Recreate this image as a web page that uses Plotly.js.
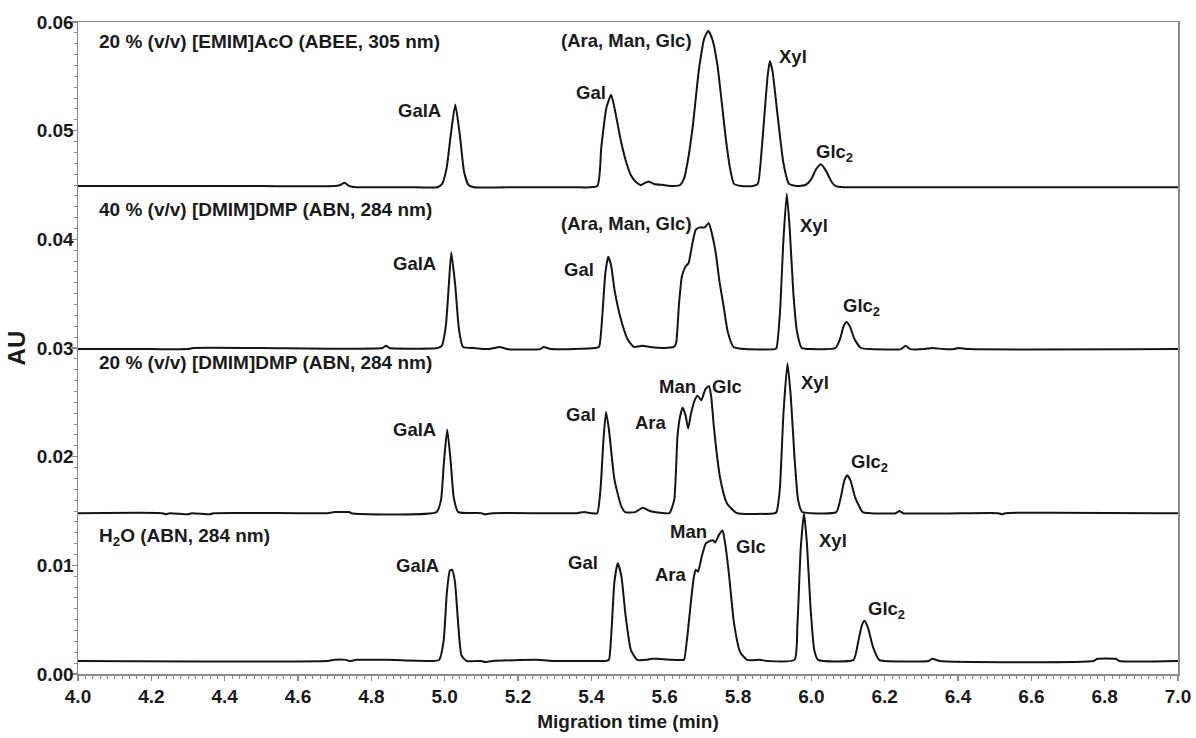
<!DOCTYPE html>
<html>
<head>
<meta charset="utf-8">
<script src="https://cdn.plot.ly/plotly-3.0.1.min.js"></script>
<style>html,body{margin:0;padding:0;background:#fff;}#chart{width:1196px;height:738px;}</style>
</head>
<body>
<div id="chart"></div>
<script>
// ---- Data (migration time in min, absorbance in AU) ----
// Trace 4: 20 % (v/v) [EMIM]AcO (ABEE, 305 nm)
const t4 = [4.00,4.30,4.50,4.70,4.715,4.727,4.74,4.76,4.90,4.98,4.993,5.005,5.017,5.029,5.041,5.053,5.065,5.08,5.20,5.35,5.416,5.427,5.441,5.454,5.466,5.481,5.496,5.508,5.521,5.535,5.546,5.557,5.571,5.596,5.625,5.642,5.653,5.665,5.677,5.688,5.695,5.708,5.719,5.731,5.744,5.756,5.767,5.778,5.789,5.81,5.84,5.854,5.863,5.872,5.881,5.887,5.894,5.908,5.924,5.939,5.96,5.984,5.999,6.014,6.026,6.04,6.055,6.066,6.09,6.3,6.6,7.00];
const au4 = [0.0449,0.0449,0.0449,0.0449,0.0450,0.0452,0.0449,0.0448,0.0448,0.0448,0.0451,0.0465,0.0497,0.0524,0.0497,0.0462,0.0450,0.0448,0.0448,0.0448,0.0449,0.0484,0.0521,0.0533,0.0516,0.0490,0.0470,0.0459,0.0453,0.0450,0.0452,0.0453,0.0451,0.0450,0.0449,0.0450,0.0456,0.0476,0.0505,0.0540,0.0560,0.0585,0.0592,0.0583,0.0560,0.0525,0.0492,0.0466,0.0451,0.0449,0.0449,0.0451,0.0476,0.0514,0.0551,0.0564,0.0555,0.0514,0.0470,0.0451,0.0449,0.0450,0.0455,0.0465,0.0469,0.0463,0.0453,0.0449,0.0448,0.0448,0.0448,0.0448];

// Trace 3: 40 % (v/v) [DMIM]DMP (ABN, 284 nm)
const t3 = [4.00,4.20,4.30,4.315,4.50,4.83,4.84,4.85,4.98,4.992,5.003,5.011,5.018,5.029,5.039,5.05,5.08,5.12,5.15,5.17,5.26,5.27,5.29,5.41,5.421,5.43,5.438,5.446,5.454,5.463,5.481,5.499,5.516,5.54,5.56,5.60,5.625,5.631,5.639,5.647,5.657,5.665,5.675,5.685,5.697,5.709,5.72,5.729,5.739,5.75,5.761,5.772,5.788,5.82,5.90,5.905,5.914,5.924,5.933,5.941,5.951,5.961,5.974,6.00,6.066,6.078,6.088,6.096,6.105,6.118,6.135,6.16,6.245,6.257,6.27,6.31,6.33,6.36,6.39,6.40,6.43,7.00];
const au3 = [0.0299,0.0299,0.0299,0.0300,0.0300,0.0300,0.0302,0.0300,0.0300,0.0302,0.0320,0.0356,0.0388,0.0357,0.0317,0.0301,0.0300,0.0299,0.0301,0.0299,0.0299,0.0301,0.0299,0.0300,0.0301,0.0330,0.0368,0.0384,0.0376,0.0354,0.0326,0.0308,0.0301,0.0302,0.0301,0.0300,0.0301,0.0304,0.0340,0.0366,0.0375,0.0378,0.0395,0.0409,0.0411,0.0411,0.0415,0.0405,0.0388,0.0360,0.0338,0.0315,0.0301,0.0299,0.0299,0.0300,0.0330,0.0400,0.0442,0.0410,0.0350,0.0315,0.0300,0.0299,0.0300,0.0308,0.0320,0.0324,0.0320,0.0308,0.0300,0.0299,0.0299,0.0302,0.0299,0.0299,0.0300,0.0299,0.0299,0.0300,0.0299,0.0299];

// Trace 2: 20 % (v/v) [DMIM]DMP (ABN, 284 nm)
const t2 = [4.00,4.23,4.24,4.25,4.30,4.31,4.36,4.37,4.68,4.70,4.74,4.745,4.978,4.99,4.998,5.007,5.016,5.025,5.037,5.10,5.11,5.13,5.36,5.38,5.40,5.416,5.425,5.433,5.44,5.448,5.463,5.481,5.492,5.52,5.54,5.56,5.60,5.613,5.626,5.635,5.642,5.649,5.657,5.664,5.672,5.682,5.690,5.700,5.711,5.721,5.727,5.734,5.743,5.752,5.770,5.797,5.90,5.905,5.914,5.924,5.935,5.944,5.954,5.964,5.975,6.00,6.068,6.08,6.09,6.098,6.107,6.12,6.14,6.16,6.23,6.24,6.25,6.51,6.52,6.53,7.00];
const au2 = [0.0148,0.0148,0.0147,0.0148,0.0147,0.0148,0.0147,0.0148,0.0148,0.0149,0.0149,0.0148,0.0149,0.0160,0.0195,0.0225,0.0197,0.0162,0.0149,0.0148,0.0147,0.0148,0.0148,0.0149,0.0148,0.0148,0.0170,0.0215,0.0241,0.0225,0.0179,0.0155,0.0149,0.0149,0.0153,0.0150,0.0148,0.0148,0.0160,0.0219,0.0237,0.0245,0.0238,0.0226,0.0240,0.0252,0.0256,0.0252,0.0262,0.0265,0.0255,0.0228,0.0200,0.0179,0.0157,0.0148,0.0148,0.0149,0.0170,0.0240,0.0286,0.0255,0.0200,0.0160,0.0149,0.0148,0.0149,0.0162,0.0178,0.0183,0.0178,0.0162,0.0149,0.0148,0.0148,0.0150,0.0148,0.0148,0.0147,0.0148,0.0148];

// Trace 1: H2O (ABN, 284 nm)
const t1 = [4.00,4.68,4.70,4.73,4.74,4.76,4.84,4.97,4.985,4.997,5.006,5.014,5.02,5.028,5.036,5.046,5.06,5.10,5.11,5.13,5.25,5.30,5.40,5.44,5.448,5.455,5.463,5.472,5.482,5.493,5.508,5.525,5.55,5.565,5.58,5.62,5.65,5.653,5.662,5.672,5.680,5.685,5.691,5.701,5.712,5.721,5.732,5.738,5.748,5.758,5.765,5.775,5.789,5.806,5.825,5.86,5.88,5.954,5.962,5.971,5.980,5.988,5.998,6.008,6.018,6.115,6.128,6.138,6.145,6.155,6.168,6.185,6.20,6.32,6.33,6.35,6.77,6.78,6.83,6.84,7.00];
const au1 = [0.0012,0.0012,0.0013,0.0013,0.0012,0.0013,0.0013,0.0012,0.0013,0.0030,0.0075,0.0095,0.0096,0.0085,0.0050,0.0017,0.0012,0.0012,0.0011,0.0012,0.0013,0.0012,0.0012,0.0012,0.0013,0.0040,0.0085,0.0102,0.0090,0.0055,0.0022,0.0013,0.0013,0.0014,0.0014,0.0013,0.0013,0.0013,0.0035,0.0068,0.0090,0.0096,0.0094,0.0108,0.0120,0.0122,0.0123,0.0121,0.0128,0.0132,0.0120,0.0093,0.0047,0.0020,0.0013,0.0013,0.0012,0.0013,0.0045,0.0115,0.0148,0.0120,0.0060,0.0022,0.0013,0.0013,0.0030,0.0045,0.0049,0.0042,0.0025,0.0013,0.0012,0.0012,0.0014,0.0012,0.0012,0.0014,0.0014,0.0012,0.0012];

// Axis ticks
const xTickVals = [4.0,4.2,4.4,4.6,4.8,5.0,5.2,5.4,5.6,5.8,6.0,6.2,6.4,6.6,6.8,7.0];
const yTickVals = [0.00,0.01,0.02,0.03,0.04,0.05,0.06];

// Panel titles and peak labels
const labelText = [
  "20 % (v/v) [EMIM]AcO (ABEE, 305 nm)","GalA","Gal","(Ara, Man, Glc)","Xyl","Glc<sub>2</sub>",
  "40 % (v/v) [DMIM]DMP (ABN, 284 nm)","GalA","Gal","(Ara, Man, Glc)","Xyl","Glc<sub>2</sub>",
  "20 % (v/v) [DMIM]DMP (ABN, 284 nm)","GalA","Gal","Ara","Man","Glc","Xyl","Glc<sub>2</sub>",
  "H<sub>2</sub>O (ABN, 284 nm)","GalA","Gal","Ara","Man","Glc","Xyl","Glc<sub>2</sub>"
];
const labelX = [
  4.052,4.996,5.446,5.680,5.906,6.007,
  4.052,4.983,5.413,5.680,5.963,6.080,
  4.052,4.983,5.418,5.612,5.691,5.723,5.966,6.102,
  4.052,4.991,5.424,5.666,5.721,5.789,6.015,6.148
];
const labelY = [
  0.0582,0.0519,0.0535,0.0583,0.0568,0.0479,
  0.0427,0.0378,0.0372,0.0415,0.0413,0.0338,
  0.0287,0.0225,0.0239,0.0231,0.0265,0.0265,0.0268,0.0194,
  0.0126,0.0100,0.0103,0.0092,0.0131,0.0117,0.0123,0.0059
];
const labelAnchor = [
  "left","right","right","right","left","left",
  "left","right","right","right","left","left",
  "left","right","right","right","right","left","left","left",
  "left","right","right","right","right","left","left","left"
];
const labelIsTitle = [
  1,0,0,0,0,0,
  1,0,0,0,0,0,
  1,0,0,0,0,0,0,0,
  1,0,0,0,0,0,0,0
];

const FONT = "Liberation Sans, Arial, sans-serif";
const INK = "#1a1a1a";
const lineStyle = {color:"#141414", width:2, shape:"spline", smoothing:0.5};
const traces = [[t1,au1],[t2,au2],[t3,au3],[t4,au4]].map(([x,y]) => ({
  x:x, y:y, type:"scatter", mode:"lines", line:lineStyle, hoverinfo:"x+y", showlegend:false
}));

const annotations = labelText.map((txt,i) => ({
  text:txt, x:labelX[i], y:labelY[i], xref:"x", yref:"y",
  xanchor:labelAnchor[i], yanchor:"middle", showarrow:false,
  font:{family:FONT, size:labelIsTitle[i] ? 19 : 18.5, color:INK, weight:"bold"}
}));
// y-axis title drawn as a rotated annotation so it can sit close to the tick labels
annotations.push({
  text:"AU", xref:"paper", yref:"paper", x:-0.056, y:0.5, xanchor:"center", yanchor:"middle",
  textangle:-90, showarrow:false, font:{family:FONT, size:24, color:INK, weight:"bold"}
});

const axisColor = "#8a8a8a";
const layout = {
  width:1196, height:738,
  margin:{l:78, r:18, t:22, b:64},
  paper_bgcolor:"#ffffff", plot_bgcolor:"#ffffff",
  showlegend:false,
  font:{family:FONT, color:INK},
  xaxis:{
    range:[4.0,7.0], tickvals:xTickVals, ticktext:xTickVals.map(v=>v.toFixed(1)),
    ticks:"outside", ticklen:5, tickwidth:1.3, tickcolor:axisColor,
    minor:{dtick:0.02, ticks:"outside", ticklen:3, tickcolor:axisColor, tickwidth:1},
    showline:true, linecolor:axisColor, linewidth:1.5, mirror:true,
    showgrid:false, zeroline:false,
    tickfont:{family:FONT, size:19, color:INK, weight:"bold"},
    title:{text:"Migration time (min)", font:{family:FONT, size:19, color:INK, weight:"bold"}, standoff:8}
  },
  yaxis:{
    range:[0,0.06], tickvals:yTickVals, ticktext:yTickVals.map(v=>v.toFixed(2)),
    ticks:"outside", ticklen:5, tickwidth:1.3, tickcolor:axisColor, ticklabelstandoff:-6,
    minor:{dtick:0.001, ticks:"outside", ticklen:3, tickcolor:axisColor, tickwidth:1},
    showline:true, linecolor:axisColor, linewidth:1.5, mirror:true,
    showgrid:false, zeroline:false,
    tickfont:{family:FONT, size:19, color:INK, weight:"bold"}
  },
  annotations:annotations
};

Plotly.newPlot("chart", traces, layout, {displayModeBar:false, staticPlot:true});
</script>
</body>
</html>
